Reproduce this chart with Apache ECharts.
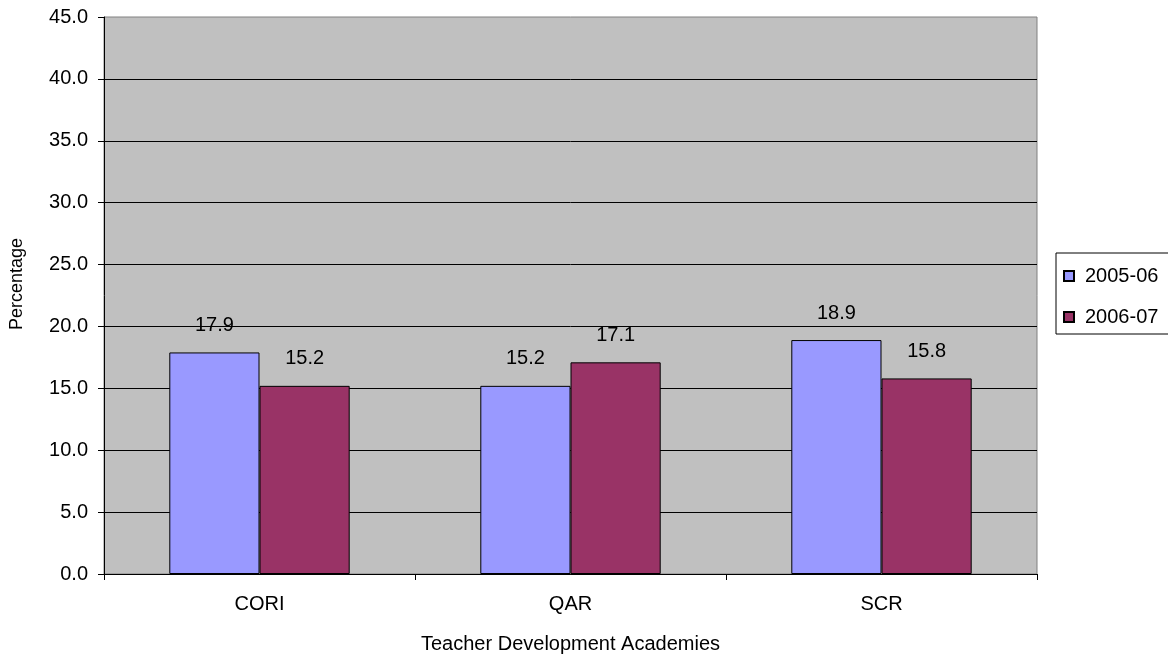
<!DOCTYPE html>
<html>
<head>
<meta charset="utf-8">
<script src="https://cdn.jsdelivr.net/npm/echarts@6/dist/echarts.min.js"></script>
<style>
  html, body { margin: 0; padding: 0; background: #fff; }
  #chart { width: 1168px; height: 662px; }
</style>
</head>
<body>
<div id="chart"></div>
<script>
// Academies on the category axis
const categories = ['CORI', 'QAR', 'SCR'];
// Percentages per school year
const series0506 = [17.9, 15.2, 18.9];
const series0607 = [15.2, 17.1, 15.8];
const seriesNames = ['2005-06', '2006-07'];

const FONT = 'Liberation Sans, Arial, sans-serif';
const FS = 20;
const chart = echarts.init(document.getElementById('chart'));

const labelCfg = {
  show: true,
  position: 'top',
  distance: 17,
  color: '#000',
  fontFamily: FONT,
  fontSize: FS,
  formatter: p => p.value.toFixed(1)
};

chart.setOption({
  animation: false,
  textStyle: { fontFamily: FONT },
  grid: { left: 104, right: 131, top: 17, bottom: 88, show: true, backgroundColor: '#C0C0C0', borderColor: '#808080', borderWidth: 1 },
  legend: {
    orient: 'vertical',
    left: 1056,
    top: 253,
    padding: [13, 30, 7, 7],
    itemGap: 21,
    itemWidth: 10,
    itemHeight: 10,
    borderColor: '#000',
    borderWidth: 1,
    backgroundColor: '#fff',
    textStyle: { fontFamily: FONT, fontSize: FS, color: '#000', padding: [0, 0, 0, 6] },
    data: seriesNames.map(n => ({ name: n, icon: 'rect' }))
  },
  graphic: [{
    // vertical axis title
    type: 'text',
    x: 17,
    y: 284,
    rotation: Math.PI / 2,
    style: {
      text: 'Percentage',
      fontFamily: FONT,
      fontSize: 18,
      fill: '#000',
      align: 'center',
      verticalAlign: 'middle'
    }
  }],
  xAxis: {
    type: 'category',
    data: categories,
    name: 'Teacher Development Academies',
    nameLocation: 'middle',
    nameGap: 60,
    nameTextStyle: { fontFamily: FONT, fontSize: FS, color: '#000' },
    axisLine: { lineStyle: { color: '#000', width: 1 } },
    axisTick: { show: true, length: 6, lineStyle: { color: '#000' } },
    axisLabel: { color: '#000', fontFamily: FONT, fontSize: FS, margin: 20 }
  },
  yAxis: {
    type: 'value',
    min: 0,
    max: 45,
    interval: 5,
    axisLine: { show: true, lineStyle: { color: '#000', width: 1 } },
    axisTick: { show: true, length: 6, lineStyle: { color: '#000' } },
    axisLabel: { color: '#000', fontFamily: FONT, fontSize: FS, margin: 16, formatter: v => v.toFixed(1) },
    splitLine: { show: true, showMaxLine: false, lineStyle: { color: '#000', width: 1 } }
  },
  series: [
    {
      name: seriesNames[0],
      type: 'bar',
      data: series0506,
      barGap: '0%',
      barCategoryGap: '42%',
      itemStyle: { color: '#9999FF', borderColor: '#000', borderWidth: 1 },
      label: labelCfg
    },
    {
      name: seriesNames[1],
      type: 'bar',
      data: series0607,
      itemStyle: { color: '#993366', borderColor: '#000', borderWidth: 1 },
      label: labelCfg
    }
  ]
});
</script>
</body>
</html>
